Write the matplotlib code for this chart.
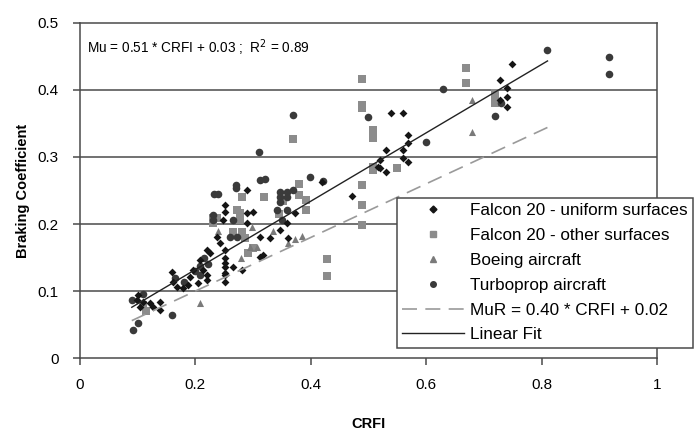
import matplotlib.pyplot as plt
from matplotlib import font_manager
from matplotlib.lines import Line2D

plt.rcParams["font.family"] = ["Liberation Sans", "DejaVu Sans"]

# ---------------------------------------------------------------------------
# Données (CRFI, coefficient de freinage)
# ---------------------------------------------------------------------------
uniforme_x = [0.101, 0.104, 0.109, 0.121, 0.127, 0.139, 0.139, 0.099,
              0.159, 0.161, 0.168, 0.179, 0.187, 0.191, 0.196, 0.205, 0.213,
              0.220, 0.220, 0.208, 0.220, 0.225, 0.237, 0.243, 0.251, 0.251,
              0.251, 0.251, 0.251, 0.251, 0.289, 0.289, 0.300, 0.248, 0.289,
              0.312, 0.329, 0.251, 0.251, 0.251, 0.265, 0.281, 0.312, 0.317,
              0.347, 0.358, 0.373, 0.360, 0.419, 0.471, 0.516, 0.520, 0.530,
              0.539, 0.560, 0.560, 0.560, 0.569, 0.569, 0.569, 0.520, 0.530,
              0.728, 0.740, 0.740, 0.740, 0.728, 0.749]
uniforme_y = [0.094, 0.076, 0.084, 0.082, 0.076, 0.084, 0.072, 0.087,
              0.128, 0.113, 0.106, 0.104, 0.109, 0.121, 0.131, 0.112, 0.131,
              0.124, 0.116, 0.146, 0.161, 0.157, 0.181, 0.172, 0.161, 0.142,
              0.127, 0.113, 0.228, 0.218, 0.251, 0.216, 0.218, 0.206, 0.201,
              0.181, 0.179, 0.149, 0.136, 0.124, 0.136, 0.131, 0.151, 0.154,
              0.191, 0.201, 0.216, 0.179, 0.263, 0.242, 0.285, 0.296, 0.310,
              0.366, 0.366, 0.310, 0.298, 0.333, 0.321, 0.292, 0.284, 0.278,
              0.415, 0.403, 0.390, 0.375, 0.385, 0.439]

autres_x = [0.231, 0.231, 0.237, 0.272, 0.277, 0.277, 0.281, 0.319, 0.286,
            0.291, 0.380, 0.380, 0.392, 0.392, 0.428, 0.428, 0.369, 0.489,
            0.489, 0.489, 0.508, 0.508, 0.489, 0.489, 0.489, 0.508, 0.508,
            0.549, 0.669, 0.669, 0.719, 0.719, 0.719, 0.110, 0.115, 0.281,
            0.265, 0.352, 0.345, 0.300]
autres_y = [0.209, 0.201, 0.209, 0.221, 0.216, 0.206, 0.240, 0.240, 0.179,
            0.157, 0.260, 0.243, 0.236, 0.221, 0.148, 0.122, 0.327, 0.416,
            0.378, 0.373, 0.340, 0.328, 0.258, 0.228, 0.198, 0.285, 0.281,
            0.284, 0.433, 0.410, 0.395, 0.381, 0.388, 0.079, 0.070, 0.188,
            0.188, 0.235, 0.215, 0.165]

boeing_x = [0.208, 0.295, 0.307, 0.360, 0.372, 0.384, 0.679, 0.679, 0.280,
            0.299, 0.240, 0.335]
boeing_y = [0.082, 0.166, 0.166, 0.172, 0.178, 0.182, 0.385, 0.337, 0.150,
            0.195, 0.190, 0.190]

turbo_x = [0.090, 0.092, 0.159, 0.101, 0.270, 0.270, 0.312, 0.321, 0.310,
           0.369, 0.399, 0.421, 0.347, 0.347, 0.347, 0.358, 0.358, 0.369,
           0.499, 0.600, 0.629, 0.719, 0.809, 0.917, 0.917, 0.231, 0.231,
           0.208, 0.208, 0.215, 0.222, 0.265, 0.260, 0.272, 0.233, 0.240,
           0.358, 0.341, 0.350, 0.110, 0.165, 0.180, 0.200, 0.730]
turbo_y = [0.087, 0.042, 0.064, 0.052, 0.258, 0.254, 0.266, 0.267, 0.308,
           0.363, 0.270, 0.264, 0.248, 0.240, 0.233, 0.248, 0.240, 0.251,
           0.360, 0.322, 0.401, 0.361, 0.460, 0.449, 0.424, 0.206, 0.213,
           0.124, 0.137, 0.150, 0.140, 0.206, 0.181, 0.181, 0.245, 0.245,
           0.221, 0.221, 0.206, 0.095, 0.120, 0.114, 0.130, 0.380]

# Droites : ajustement linéaire et MuR
plage_x = [0.09, 0.81]
pente_fit, ordonnee_fit = 0.51, 0.03
pente_mur, ordonnee_mur = 0.40, 0.02

x_ticks = [0, 0.2, 0.4, 0.6, 0.8, 1]
x_labels = ["0", "0.2", "0.4", "0.6", "0.8", "1"]
y_ticks = [0, 0.1, 0.2, 0.3, 0.4, 0.5]
y_labels = ["0", "0.1", "0.2", "0.3", "0.4", "0.5"]

GRIS_CADRE = "#4a4a4a"

# Police étroite pour l'équation si elle est installée
polices = {f.name for f in font_manager.fontManager.ttflist}
if "Liberation Sans Narrow" in polices:
    police_eq, taille_eq = ["Liberation Sans Narrow", "DejaVu Sans"], 11.5
else:
    police_eq, taille_eq = ["Liberation Sans", "DejaVu Sans"], 9.8

fig = plt.figure(figsize=(6.94, 4.30), dpi=100)
ax = fig.add_axes([0.115, 0.167, 0.832, 0.780])

for y in y_ticks[1:-1]:
    ax.axhline(y, color=GRIS_CADRE, lw=1.1, zorder=1)

ax.scatter(autres_x, autres_y, marker="s", s=26, color="#8c8c8c", lw=0, zorder=3)
ax.scatter(boeing_x, boeing_y, marker="^", s=26, color="#7a7a7a", lw=0, zorder=3)
ax.scatter(turbo_x, turbo_y, marker="o", s=30, color="#3a3a3a", lw=0, zorder=3)
ax.scatter(uniforme_x, uniforme_y, marker="D", s=16, color="#151515", lw=0, zorder=4)

fit_y = [pente_fit * x + ordonnee_fit for x in plage_x]
mur_y = [pente_mur * x + ordonnee_mur for x in plage_x]
ax.plot(plage_x, mur_y, color="#9a9a9a", lw=1.2, dashes=(9, 5), zorder=5)
ax.plot(plage_x, fit_y, color="#222222", lw=1.0, zorder=5)

ax.text(0.012, 0.463, "Mu = 0.51 * CRFI + 0.03 ;  R$^2$ = 0.89",
        fontsize=taille_eq, family=police_eq, ha="left", va="center")

ax.set_xlim(0, 1)
ax.set_ylim(0, 0.5)
ax.set_xticks(x_ticks, x_labels)
ax.set_yticks(y_ticks, y_labels)
ax.tick_params(axis="both", labelsize=11, color=GRIS_CADRE, width=1.1,
               length=5, direction="out")
ax.tick_params(axis="x", pad=9)
ax.tick_params(axis="y", pad=10)
for spine in ax.spines.values():
    spine.set_color(GRIS_CADRE)
    spine.set_linewidth(1.1)

ax.set_xlabel("CRFI", fontsize=10.5, fontweight="bold", labelpad=18)
ax.set_ylabel("Braking Coefficient", fontsize=10.5, fontweight="bold", labelpad=6)

poignees = [
    Line2D([], [], marker="D", ls="none", color="#151515", markersize=3.5),
    Line2D([], [], marker="s", ls="none", color="#8c8c8c", markersize=4),
    Line2D([], [], marker="^", ls="none", color="#7a7a7a", markersize=4),
    Line2D([], [], marker="o", ls="none", color="#3a3a3a", markersize=4),
    Line2D([], [], color="#9a9a9a", lw=1.2, dashes=(9, 5)),
    Line2D([], [], color="#222222", lw=1.0),
]
etiquettes = [
    "Falcon 20 - uniform surfaces",
    "Falcon 20 - other surfaces",
    "Boeing aircraft",
    "Turboprop aircraft",
    "MuR = 0.40 * CRFI + 0.02",
    "Linear Fit",
]
leg = fig.legend(poignees, etiquettes, loc="upper left",
                 bbox_to_anchor=(0.572, 0.540), bbox_transform=fig.transFigure,
                 fontsize=12.3, frameon=True, fancybox=False, framealpha=1,
                 edgecolor=GRIS_CADRE, handlelength=3.6, handletextpad=0.4,
                 labelspacing=0.58, borderpad=0.3, borderaxespad=0)
leg.get_frame().set_linewidth(1.1)

fig.savefig("out.png", dpi=100)
